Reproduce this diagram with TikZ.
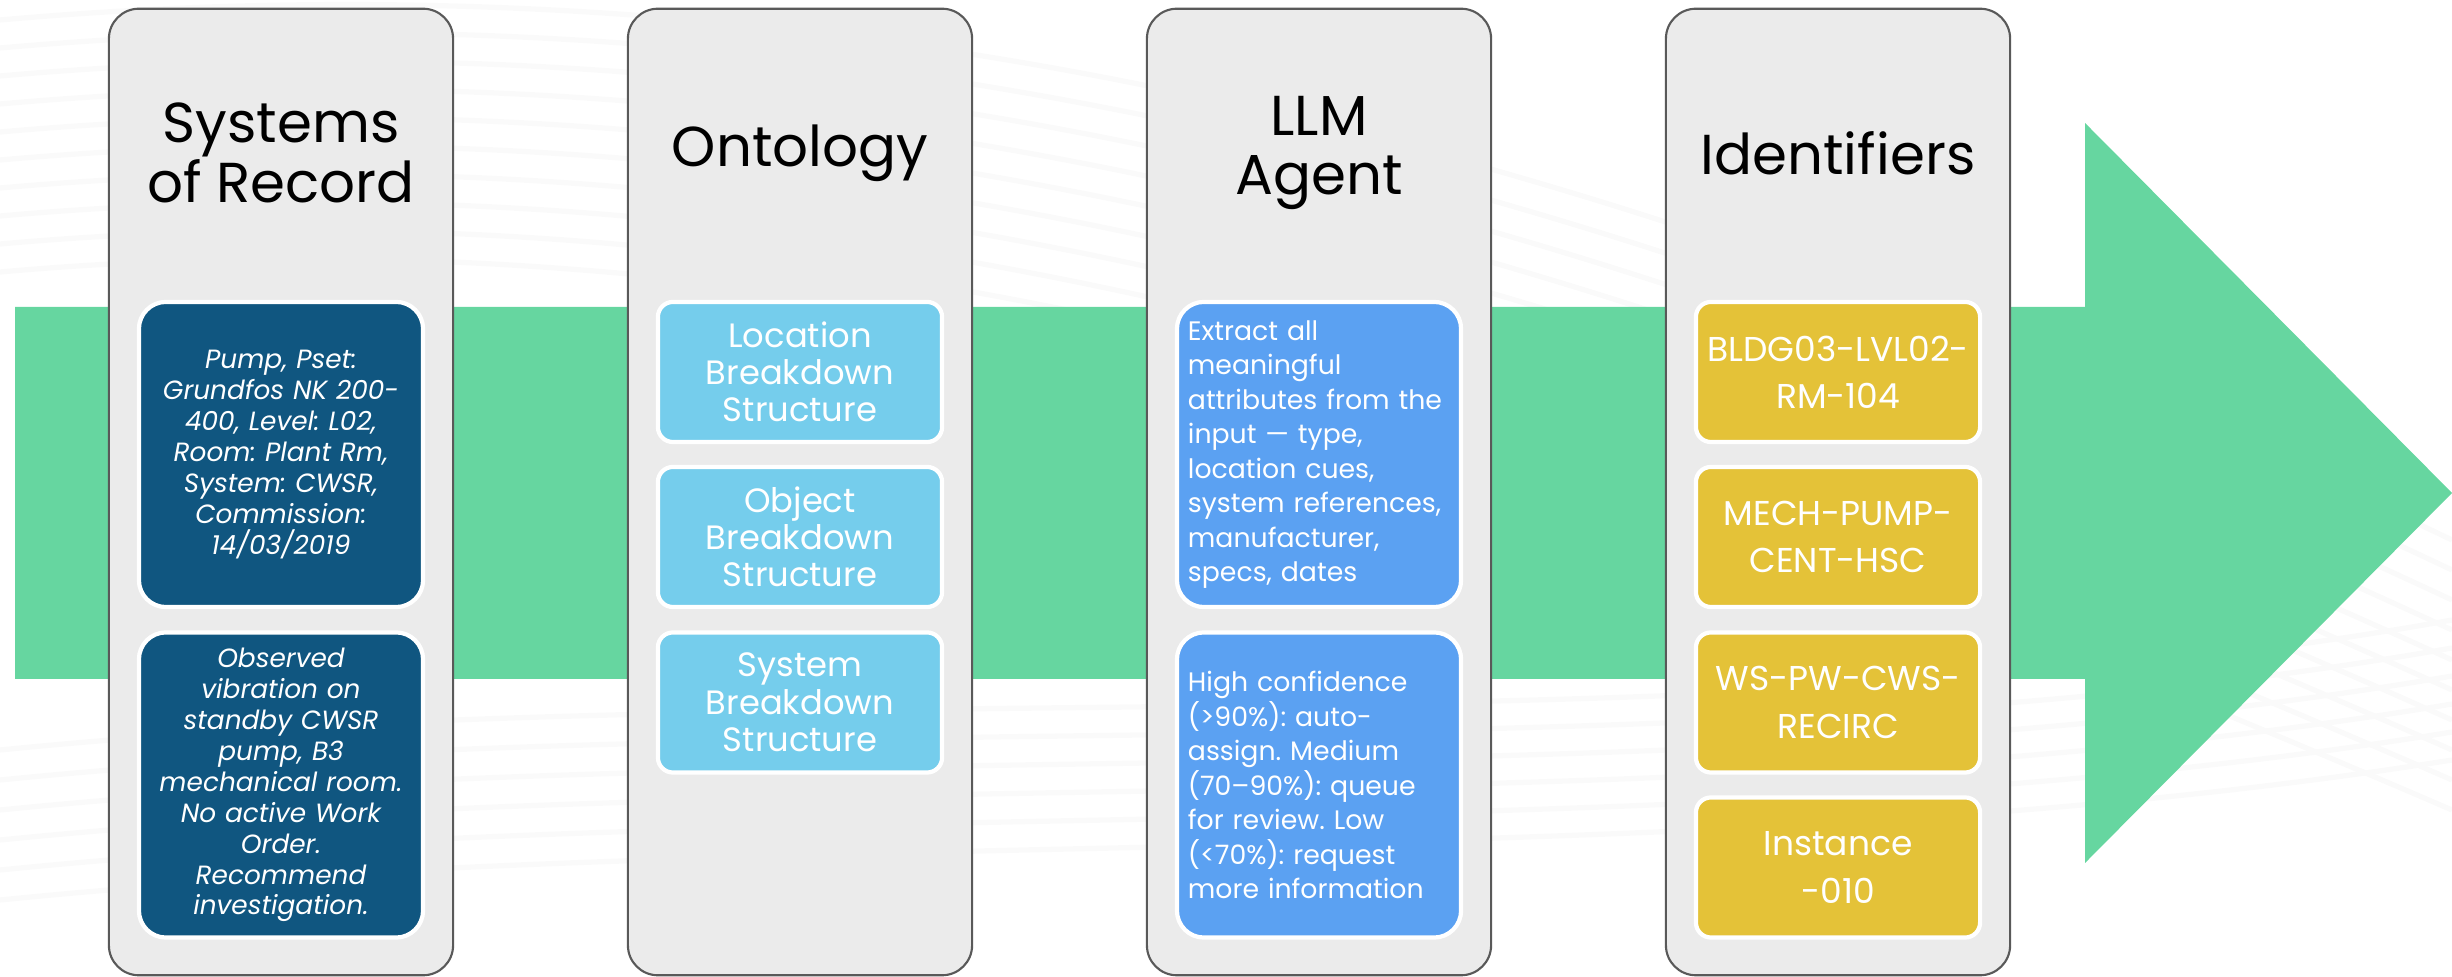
\documentclass[tikz,border=0pt]{standalone}
\usepackage{fontspec}
\setmainfont{Poppins}
\frenchspacing
\definecolor{arrowgreen}{RGB}{102,214,160}
\definecolor{panelgray}{RGB}{235,235,235}
\definecolor{sorblue}{RGB}{16,86,128}
\definecolor{ontblue}{RGB}{117,205,236}
\definecolor{llmblue}{RGB}{91,161,242}
\definecolor{idyellow}{RGB}{228,194,56}
\tikzset{
  panel/.style={draw=black!65, line width=0.6pt, fill=panelgray, rounded corners=0.3cm,
    minimum width=3.44cm, minimum height=9.66cm},
  header/.style={align=center, font=\fontsize{16}{17}\selectfont},
  box/.style={draw=white, line width=1.2pt, inner xsep=0.11cm, text width=2.62cm,
    minimum width=2.84cm, text=white},
  bigbox/.style={box, minimum height=3.05cm, rounded corners=0.27cm},
  smallbox/.style={box, minimum height=1.40cm, rounded corners=0.15cm},
  bgline/.style={black!2, line width=1.5pt}
}
\begin{document}
\begin{tikzpicture}[x=0.01cm, y=-0.01cm]
\useasboundingbox (0,0) rectangle (2452,977);
% faint background
\foreach \k in {0,...,9}
  \draw[bgline] (0,20+\k*28) .. controls (900,-60+\k*28) and (1700,180+\k*34) .. (2452,540+\k*30);
\foreach \k in {0,...,5}
  \draw[bgline] (0,900-\k*30) .. controls (800,820-\k*30) and (1700,880-\k*25) .. (2452,760-\k*28);
% big arrow
\fill[arrowgreen] (15,307) -- (2085,307) -- (2085,123) -- (2452,493) -- (2085,863) -- (2085,679) -- (15,679) -- cycle;
% panels
\node[panel] (sor) at (281,492) {};
\node[panel] (ont) at (800,492) {};
\node[panel] (llm) at (1319,492) {};
\node[panel] (ids) at (1838,492) {};
\node[header] (sorhead) at (281,153) {Systems\\of Record};
\node[header] (onthead) at (800,153) {Ontology};
\node[header] (llmhead) at (1319,153) {LLM\\Agent};
\node[header] (idshead) at (1838,153) {Identifiers};
% systems of record
\node[bigbox, fill=sorblue, align=center, font=\fontsize{7.5}{8.8}\selectfont\itshape] (sor1) at (281,454.5)
  {Pump, Pset:\\Grundfos NK 200-\\400, Level: L02,\\Room: Plant Rm,\\System: CWSR,\\Commission:\\14/03/2019};
\node[bigbox, fill=sorblue, align=center, font=\fontsize{7.5}{8.8}\selectfont\itshape] (sor2) at (281,785)
  {Observed\\vibration on\\standby CWSR\\pump, B3\\mechanical room.\\No active Work\\Order.\\Recommend\\investigation.};
% ontology
\node[smallbox, fill=ontblue, align=center, font=\fontsize{9.6}{10.6}\selectfont] (ont1) at (800,372) {Location\\Breakdown\\Structure};
\node[smallbox, fill=ontblue, align=center, font=\fontsize{9.6}{10.6}\selectfont] (ont2) at (800,537) {Object\\Breakdown\\Structure};
\node[smallbox, fill=ontblue, align=center, font=\fontsize{9.6}{10.6}\selectfont] (ont3) at (800,702.5) {System\\Breakdown\\Structure};
% llm agent
\node[bigbox, fill=llmblue, align=left, font=\fontsize{7.6}{9.8}\selectfont] (llm1) at (1319,454.5)
  {Extract all\\meaningful\\attributes from the\\input — type,\\location cues,\\system references,\\manufacturer,\\specs, dates};
\node[bigbox, fill=llmblue, align=left, font=\fontsize{7.6}{9.8}\selectfont] (llm2) at (1319,785)
  {High confidence\\(>90\%): auto-\\assign. Medium\\(70–90\%): queue\\for review. Low\\(<70\%): request\\more information};
% identifiers
\node[smallbox, fill=idyellow, align=center, font=\fontsize{9.8}{13.4}\selectfont] (ids1) at (1838,372) {BLDG03-LVL02-\\RM-104};
\node[smallbox, fill=idyellow, align=center, font=\fontsize{9.8}{13.4}\selectfont] (ids2) at (1838,537) {MECH-PUMP-\\CENT-HSC};
\node[smallbox, fill=idyellow, align=center, font=\fontsize{9.8}{13.4}\selectfont] (ids3) at (1838,702.5) {WS-PW-CWS-\\RECIRC};
\node[smallbox, fill=idyellow, align=center, font=\fontsize{9.8}{13.4}\selectfont] (ids4) at (1838,867.5) {Instance\\-010};
\end{tikzpicture}
\end{document}
